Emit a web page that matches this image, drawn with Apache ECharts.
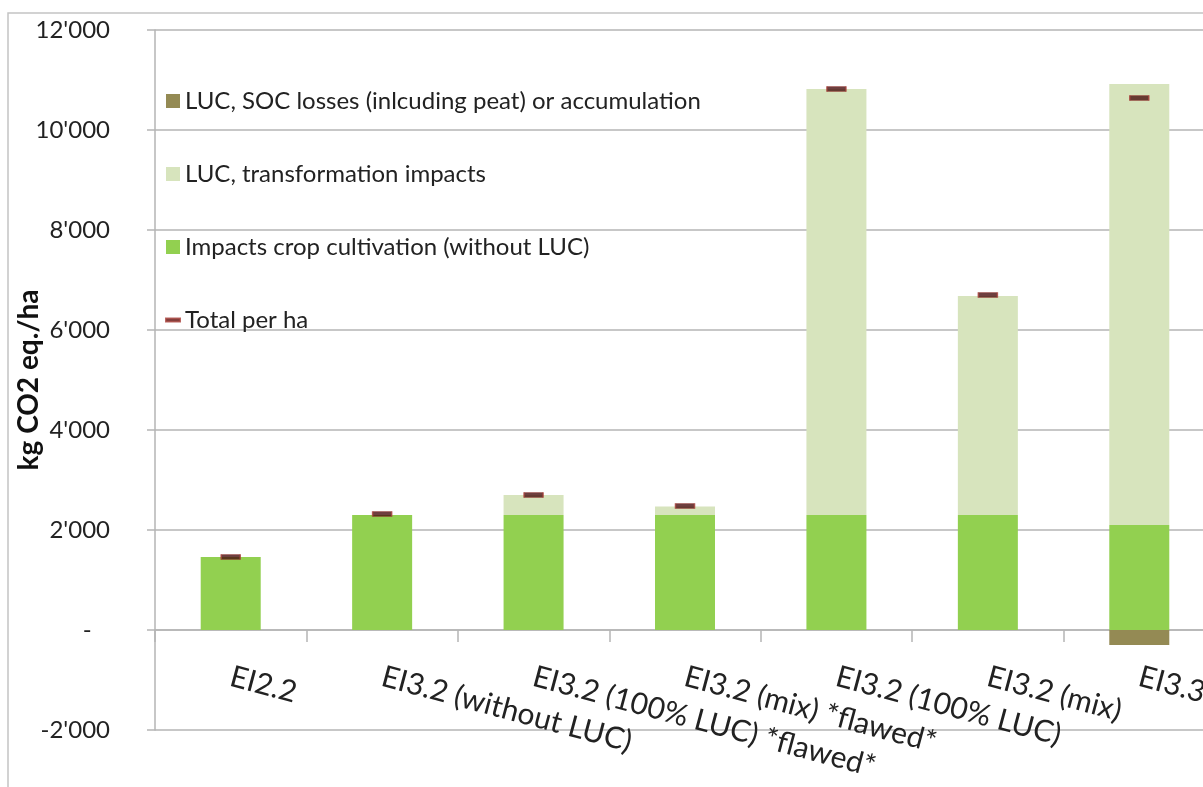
<!DOCTYPE html>
<html>
<head>
<meta charset="utf-8">
<script src="https://cdn.jsdelivr.net/npm/echarts@6/dist/echarts.min.js"></script>
<style>
  html, body { margin: 0; padding: 0; background: #fff; }
  #chart { width: 1203px; height: 787px; }
</style>
</head>
<body>
<div id="chart"></div>
<script>
  // values (kg CO2 eq./ha)
  var categories = ['EI2.2', 'EI3.2 (without LUC)', 'EI3.2 (100% LUC) *flawed*', 'EI3.2 (mix) *flawed*', 'EI3.2 (100% LUC)', 'EI3.2 (mix)', 'EI3.3'];
  var cropValues = [1460, 2300, 2300, 2300, 2300, 2300, 2100];
  var transformValues = [0, 0, 400, 170, 8520, 4380, 8820];
  var socValues = [0, 0, 0, 0, 0, 0, -300];
  var totalValues = [1460, 2320, 2700, 2480, 10820, 6700, 10640];

  var seriesNames = [
    'LUC, SOC losses (inlcuding peat) or accumulation',
    'LUC, transformation impacts',
    'Impacts crop cultivation (without LUC)',
    'Total per ha'
  ];

  var font = 'Lato';
  var gray = '#b5b5b5';

  function fmtTick(v) {
    if (v === 0) return '-   ';
    var s = Math.abs(v).toString().replace(/\B(?=(\d{3})+(?!\d))/g, "'");
    return (v < 0 ? '-' : '') + s;
  }

  var myChart = echarts.init(document.getElementById('chart'));

  var option = {
    backgroundColor: '#fff',
    animation: false,
    textStyle: { fontFamily: font },
    graphic: [{
      type: 'rect',
      z: -10,
      silent: true,
      shape: { x: 8, y: 13, width: 2000, height: 2000 },
      style: { fill: 'none', stroke: '#c4c4c4', lineWidth: 1.5 }
    }],
    grid: { left: 155, top: 30, width: 1060, height: 700, outerBoundsMode: 'none', containLabel: false },
    legend: {
      orient: 'vertical',
      left: 160,
      top: 83,
      itemGap: 47,
      itemWidth: 14,
      itemHeight: 14,
      textStyle: { fontFamily: font, fontSize: 24, color: '#222', lineHeight: 26 },
      data: [
        { name: seriesNames[0], icon: 'rect' },
        { name: seriesNames[1], icon: 'rect' },
        { name: seriesNames[2], icon: 'rect' },
        { name: seriesNames[3], icon: 'path://M0,0 M14,14 M0,5.5 L14,5.5 L14,8.5 L0,8.5 Z' }
      ]
    },
    xAxis: {
      type: 'category',
      data: categories,
      position: 'bottom',
      offset: -100, // axis sits on the zero line (100 px above the grid bottom)
      axisLine: { onZero: false, lineStyle: { color: gray, width: 1.5 } },
      axisTick: { show: true, length: 12, lineStyle: { color: gray, width: 1.5 } },
      axisLabel: {
        interval: 0,
        rotate: -15,
        margin: 46,
        fontFamily: font,
        fontSize: 30,
        color: '#222'
      },
      splitLine: { show: false }
    },
    yAxis: {
      type: 'value',
      min: -2000,
      max: 12000,
      interval: 2000,
      name: 'kg CO2 eq./ha',
      nameLocation: 'middle',
      nameGap: 112,
      nameMoveOverlap: false,
      nameTextStyle: { fontFamily: font, fontSize: 28, fontWeight: 'bold', color: '#111' },
      axisLine: { show: true, lineStyle: { color: gray, width: 1.5 } },
      axisTick: { show: true, length: 8, lineStyle: { color: gray, width: 1.5 } },
      axisLabel: {
        margin: 45,
        fontFamily: font,
        fontSize: 24,
        color: '#222',
        formatter: fmtTick
      },
      splitLine: { show: true, lineStyle: { color: gray, width: 1.5 } }
    },
    series: [
      {
        name: seriesNames[2],
        type: 'bar',
        stack: 'luc',
        barWidth: 60,
        itemStyle: { color: '#92d050' },
        data: cropValues
      },
      {
        name: seriesNames[1],
        type: 'bar',
        stack: 'luc',
        barWidth: 60,
        itemStyle: { color: '#d7e4bd' },
        data: transformValues
      },
      {
        name: seriesNames[0],
        type: 'bar',
        stack: 'luc',
        barWidth: 60,
        itemStyle: { color: '#948a54' },
        data: socValues
      },
      {
        name: seriesNames[3],
        type: 'scatter',
        symbol: 'rect',
        symbolSize: [19, 5],
        z: 5,
        itemStyle: { color: '#4a0f0f', borderColor: '#a8403a', borderWidth: 0.8 },
        data: totalValues
      }
    ]
  };

  if (option && typeof option === 'object') {
    myChart.setOption(option, true);
  }
</script>
</body>
</html>
